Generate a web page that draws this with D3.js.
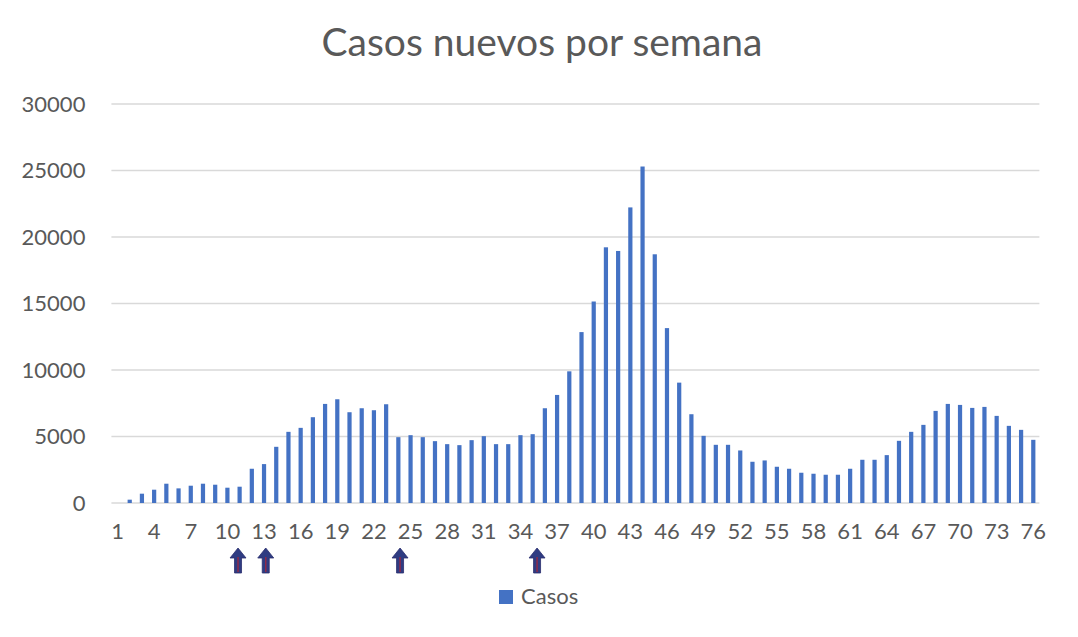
<!DOCTYPE html>
<html>
<head>
<meta charset="utf-8">
<script src="https://cdn.jsdelivr.net/npm/d3@7"></script>
<style>
  body { margin: 0; background: #fff; }
  text { font-family: Lato, "Open Sans", sans-serif; fill: #595959; }
</style>
</head>
<body>
<svg id="chart" width="1078" height="637"></svg>
<script>
// weekly new cases, week 1..76
const weeks = d3.range(1, 77);
const casos = [
  0, 250, 700, 1000, 1450, 1100, 1300, 1450, 1375, 1150,
  1225, 2575, 2925, 4225, 5350, 5650, 6450, 7450, 7800, 6825,
  7125, 6975, 7425, 4950, 5100, 4950, 4650, 4425, 4350, 4725,
  5025, 4425, 4425, 5100, 5175, 7125, 8125, 9900, 12850, 15150,
  19225, 18950, 22225, 25300, 18700, 13150, 9050, 6675, 5050, 4375,
  4375, 3950, 3100, 3200, 2725, 2575, 2275, 2200, 2125, 2125,
  2575, 3250, 3250, 3600, 4675, 5350, 5875, 6925, 7450, 7375,
  7150, 7225, 6550, 5800, 5500, 4750
];
const yTicks = [0, 5000, 10000, 15000, 20000, 25000, 30000];
const xTickLabels = weeks.filter(w => (w - 1) % 3 === 0);
// hand-drawn arrows under the axis (week positions)
const arrowWeeks = [10.87, 13.14, 24.14, 35.36];

const margin = { top: 104, left: 111.4, right: 1039.4, bottom: 503 };
const svg = d3.select("#chart");

const x = d3.scaleBand()
  .domain(weeks)
  .range([margin.left, margin.right])
  .paddingInner(0.655)
  .paddingOuter(0.3275);

const xPos = d3.scaleLinear()
  .domain([1, 76])
  .range([x(1) + x.bandwidth() / 2, x(76) + x.bandwidth() / 2]);

const y = d3.scaleLinear().domain([0, 30000]).range([margin.bottom, margin.top]);

// gridlines
svg.append("g")
  .selectAll("line")
  .data(yTicks)
  .join("line")
  .attr("x1", margin.left)
  .attr("x2", margin.right)
  .attr("y1", d => y(d))
  .attr("y2", d => y(d))
  .attr("stroke", "#D9D9D9")
  .attr("stroke-width", 1.3);

// y labels
const yAxis = d3.axisLeft(y).tickValues(yTicks).tickFormat(d3.format("d")).tickSize(0).tickPadding(26);
svg.append("g")
  .attr("transform", `translate(${margin.left},0)`)
  .call(yAxis)
  .call(g => g.select(".domain").remove())
  .selectAll("text")
  .style("font-size", "22px")
  .style("font-family", "Lato, sans-serif")
  .attr("fill", "#595959");

// bars
svg.append("g")
  .selectAll("rect")
  .data(weeks)
  .join("rect")
  .attr("x", d => x(d))
  .attr("width", x.bandwidth())
  .attr("y", (d, i) => y(casos[i]))
  .attr("height", (d, i) => y(0) - y(casos[i]))
  .attr("fill", "#4472C4");

// x labels
const xAxis = d3.axisBottom(x).tickValues(xTickLabels).tickSize(0).tickPadding(20);
svg.append("g")
  .attr("transform", `translate(0,${margin.bottom})`)
  .call(xAxis)
  .call(g => g.select(".domain").remove())
  .selectAll("text")
  .style("font-size", "22px")
  .style("font-family", "Lato, sans-serif")
  .attr("fill", "#595959");

// title
svg.append("text")
  .attr("x", 542)
  .attr("y", 56)
  .attr("text-anchor", "middle")
  .style("font-size", "39px")
  .text("Casos nuevos por semana");

// arrows
const arrow = svg.append("g")
  .selectAll("g")
  .data(arrowWeeks)
  .join("g")
  .attr("transform", d => `translate(${xPos(d)},548)`);

arrow.append("path")
  .attr("d", "M0,0 L8,10 L3.5,10 L3.5,25 L-3.5,25 L-3.5,10 L-8,10 Z")
  .attr("fill", "#2F3C82")
  .attr("stroke", "#2B2F6E")
  .attr("stroke-width", 0.8);

arrow.append("line")
  .attr("x1", 0).attr("x2", 0)
  .attr("y1", 9).attr("y2", 24)
  .attr("stroke", "#8E2A4A")
  .attr("stroke-width", 1.5);

// legend
const legend = svg.append("g").attr("transform", "translate(499,590)");
legend.append("rect")
  .attr("width", 14)
  .attr("height", 14)
  .attr("fill", "#4472C4");
legend.append("text")
  .attr("x", 22)
  .attr("y", 14)
  .style("font-size", "22px")
  .text("Casos");
</script>
</body>
</html>
